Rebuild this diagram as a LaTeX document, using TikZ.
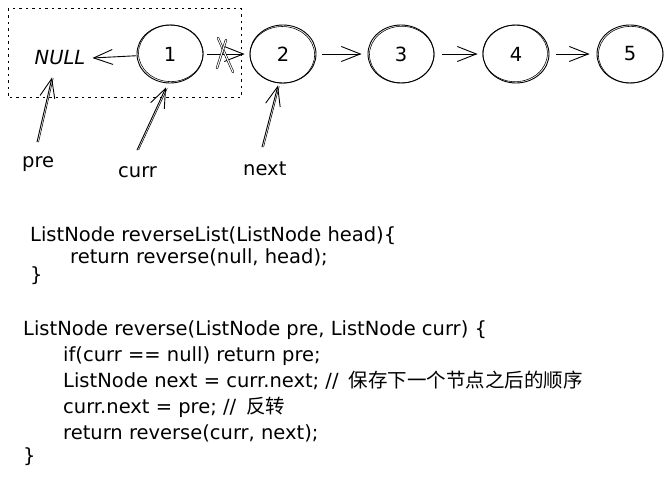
\documentclass[tikz,border=0pt]{standalone}
\usepackage{fontspec}
\setmainfont{DejaVu Sans}
\newfontfamily\cjkfont{Noto Sans CJK SC}
\usetikzlibrary{arrows.meta,shapes.geometric,calc}
\newcommand\codefs{\fontsize{19.5}{23}\selectfont}
\begin{document}
\begin{tikzpicture}[x=1pt,y=-1pt,
  stroke/.style={line width=0.9pt,line cap=round,line join=round,draw=black},
  thinstroke/.style={line width=0.55pt,line cap=round,draw=black},
  ln/.style={stroke,-{Straight Barb[length=19pt,width=15pt]}},
  circ/.style={ellipse,stroke,minimum width=66pt,minimum height=58pt,inner sep=0pt,font=\codefs},
  txt/.style={inner sep=0pt,anchor=base west,font=\codefs},
  crossmark/.style={line width=0.6pt,double=white,double distance=1.1pt,line cap=round},
  framebox/.style={line width=1pt,dash pattern=on 2.5pt off 4pt}]
\useasboundingbox (0,0) rectangle (670,481);

% dashed frame
\draw[framebox] (8,9) rectangle (241,98);

% list nodes
\node[circ] (n1) at (170,54) {1};
\node[circ] (n2) at (283,54) {2};
\node[circ] (n3) at (401,54) {3};
\node[circ] (n4) at (516,54) {4};
\node[circ] (n5) at (630,54) {5};
\foreach \n/\dx/\dy in {n1/0.8/-0.7,n2/-0.7/0.8,n3/0.8/0.6,n4/-0.9/-0.6,n5/0.7/0.7}
  \draw[thinstroke] ([shift={(\dx,\dy)}]\n.center) ellipse [x radius=32.3pt, y radius=28.3pt];

\node[inner sep=0pt,font=\codefs\itshape] (null) at (60,58) {NULL};

% links
\draw[ln,shorten <=1pt] (n1) -- ([xshift=7pt]null.east);
\draw[ln,shorten <=4pt,shorten >=5pt] (n1) -- (n2);
\draw[ln,shorten <=6pt,shorten >=6pt] (n2) -- (n3);
\draw[ln,shorten <=8pt,shorten >=5pt] (n3) -- (n4);
\draw[ln,shorten <=7pt,shorten >=7pt] (n4) -- (n5);

% cut mark on 1 -> 2
\coordinate (m12) at ($(n1.east)!0.5!(n2.west)$);
\draw[crossmark] ($(m12)+(-8.5,-16)$) -- ($(m12)+(6.5,18)$);
\draw[crossmark] ($(m12)+(-0.5,-14)$) -- ($(m12)+(-9.5,14)$);

% pointer labels
\node[txt] (pre) at (22,168) {pre};
\node[txt] (curr) at (118,178) {curr};
\node[txt] (next) at (243,176) {next};
\coordinate (preT) at (37,142);
\coordinate (currT) at (137,150);
\coordinate (nextT) at (262,147);
\draw[ln] (preT) -- ([shift={(-8,12)}]null.south);
\draw[thinstroke] ([xshift=1.6pt]preT) -- ([shift={(-6.8,13)}]null.south);
\draw[ln] (currT) -- ([shift={(-4,4)}]n1.south);
\draw[thinstroke] ([xshift=1.6pt]currT) -- ([shift={(-2.8,5)}]n1.south);
\draw[ln] (nextT) -- ([shift={(-5,2)}]n2.south);
\draw[thinstroke] ([xshift=1.6pt]nextT) -- ([shift={(-3.8,3)}]n2.south);

% code
\node[txt] (c1) at (30,242) {ListNode reverseList(ListNode head)\{};
\node[txt] (c2) at (70,264) {return reverse(null, head);};
\node[txt] (c3) at (30,282) {\}};
\node[txt] (d1) at (23,335) {ListNode reverse(ListNode pre, ListNode curr) \{};
\node[txt] (d2) at (63,361) {if(curr == null) return pre;};
\node[txt] (d3) at (63,387) {ListNode next = curr.next; //\hspace{10pt}{\cjkfont\fontsize{19.5}{23}\selectfont 保存下一个节点之后的顺序}};
\node[txt] (d4) at (63,413) {curr.next = pre; //\hspace{10pt}{\cjkfont\fontsize{19.5}{23}\selectfont 反转}};
\node[txt] (d5) at (63,439) {return reverse(curr, next);};
\node[txt] (d6) at (23,462) {\}};
\end{tikzpicture}
\end{document}
